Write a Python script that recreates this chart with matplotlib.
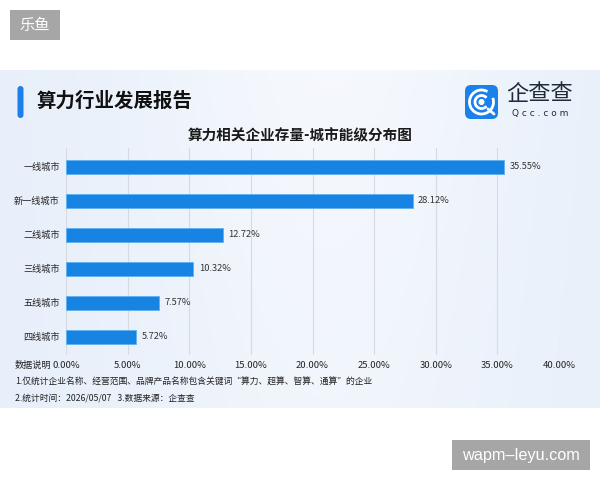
import matplotlib
matplotlib.use("Agg")
import matplotlib.pyplot as plt
import numpy as np
from matplotlib.patches import FancyBboxPatch, Rectangle, Arc, Circle

plt.rcParams['font.family'] = ['Noto Sans CJK SC', 'DejaVu Sans']

# ---- data ----
categories = ["一线城市", "新一线城市", "二线城市", "三线城市", "五线城市", "四线城市"]
values = [35.55, 28.12, 12.72, 10.32, 7.57, 5.72]
tick_values = [0, 5, 10, 15, 20, 25, 30, 35, 40]
tick_labels = ["0.00%", "5.00%", "10.00%", "15.00%", "20.00%", "25.00%", "30.00%", "35.00%", "40.00%"]
main_title = "算力行业发展报告"
chart_title = "算力相关企业存量-城市能级分布图"
note_label = "数据说明"
note1 = "1.仅统计企业名称、经营范围、品牌产品名称包含关键词\u201c算力、超算、智算、通算\u201d的企业"
note2 = "2.统计时间：2026/05/07   3.数据来源：企查查"

W, H = 600, 480
fig = plt.figure(figsize=(6, 4.8), dpi=100)
fig.patch.set_facecolor("white")

# ---- decoration axes in pixel coordinates ----
deco = fig.add_axes([0, 0, 1, 1])
deco.set_xlim(0, W)
deco.set_ylim(H, 0)
deco.axis("off")

# panel gradient background
panel_top, panel_bot = 70, 408
nx = 300
xs = np.linspace(0, 1, nx)
ys = np.linspace(0, 1, 60)
X, Y = np.meshgrid(xs, ys)
c_edge = np.array([0.905, 0.937, 0.980])
c_mid = np.array([0.962, 0.973, 0.992])
t = np.exp(-((X - 0.55) ** 2) / 0.12) * (0.7 + 0.3 * (1 - Y))
img = c_edge[None, None, :] * (1 - t[..., None]) + c_mid[None, None, :] * t[..., None]
deco.imshow(img, extent=[0, W, panel_bot, panel_top], aspect="auto", zorder=0)

# top-left watermark box
deco.add_patch(Rectangle((10, 10), 50, 30, facecolor="#a6a6a6", edgecolor="none", zorder=2))
deco.text(35, 25.5, "乐鱼", color="white", fontsize=11, ha="center", va="center", zorder=3)

# bottom-right watermark box
deco.add_patch(Rectangle((452, 440), 138, 30, facecolor="#a6a6a6", edgecolor="none", zorder=2))
deco.text(521, 455.5, "wapm\u2013leyu.com", color="white", fontsize=11.7, ha="center", va="center",
          family=["Liberation Sans", "DejaVu Sans"], zorder=3)

# header bar + title
deco.add_patch(FancyBboxPatch((17.5, 86), 6, 32, boxstyle="round,pad=0,rounding_size=3",
                              facecolor="#1d7fe8", edgecolor="none", zorder=2))
deco.text(37, 101, main_title, fontsize=14, fontweight="bold", color="#111111",
          ha="left", va="center", zorder=3)

# logo
deco.add_patch(FancyBboxPatch((465, 85), 33, 34, boxstyle="round,pad=0,rounding_size=6",
                              facecolor="#1a80ea", edgecolor="none", zorder=2))
deco.add_patch(Arc((481.5, 102), 24, 24, theta1=-20, theta2=300, color="white", lw=2.0, zorder=3))
deco.add_patch(Arc((481.5, 102), 13, 13, theta1=40, theta2=320, color="white", lw=2.0, zorder=3))
deco.add_patch(Circle((481.5, 102), 2.3, color="white", zorder=3))
deco.plot([488, 494], [109, 114], color="white", lw=2.0, solid_capstyle="round", zorder=3)
deco.text(540, 94, "企查查", fontsize=16, fontweight="medium", color="#1e2b3a",
          ha="center", va="center", zorder=3)
deco.text(540, 113.5, "Q c c . c o m", fontsize=6.5, color="#1e2b3a", ha="center", va="center",
          family=["DejaVu Sans"], zorder=3)

# chart title
deco.text(300, 135, chart_title, fontsize=10.5, fontweight="bold", color="#1a1a1a",
          ha="center", va="center", zorder=3)

# notes
deco.text(15, 365, note_label, fontsize=6.6, color="#222222", ha="left", va="center", zorder=3)
deco.text(15, 382, note1, fontsize=6.3, color="#222222", ha="left", va="center", zorder=3)
deco.text(15, 398, note2, fontsize=6.3, color="#222222", ha="left", va="center", zorder=3)

# ---- bar chart axes ----
ax_l, ax_r, ax_t, ax_b = 66, 559, 148, 355
ax = fig.add_axes([ax_l / W, 1 - ax_b / H, (ax_r - ax_l) / W, (ax_b - ax_t) / H])
ax.set_facecolor("none")
ypos = np.arange(len(categories))
ax.barh(ypos, values, height=0.41, color="#1783e3", edgecolor="#5fb0f0", linewidth=0.6, zorder=3)
for y, v in zip(ypos, values):
    ax.annotate(f"{v:.2f}%", xy=(v, y), xytext=(4, 0), textcoords="offset points",
                ha="left", va="center", fontsize=6.7, color="#333333", zorder=4)
ax.set_xlim(0, 40)
ax.set_ylim(5.54, -0.55)
ax.set_yticks(ypos)
ax.set_yticklabels(categories, fontsize=6.6, color="#222222")
ax.set_xticks(tick_values)
ax.set_xticklabels(tick_labels, fontsize=6.8, color="#222222")
ax.tick_params(axis="both", length=0)
ax.tick_params(axis="y", pad=4.5)
ax.tick_params(axis="x", pad=4.5)
ax.grid(axis="x", color="#d6dbe2", linewidth=0.8, zorder=0)
for s in ax.spines.values():
    s.set_visible(False)

fig.savefig("out.png", dpi=100, facecolor="white")
